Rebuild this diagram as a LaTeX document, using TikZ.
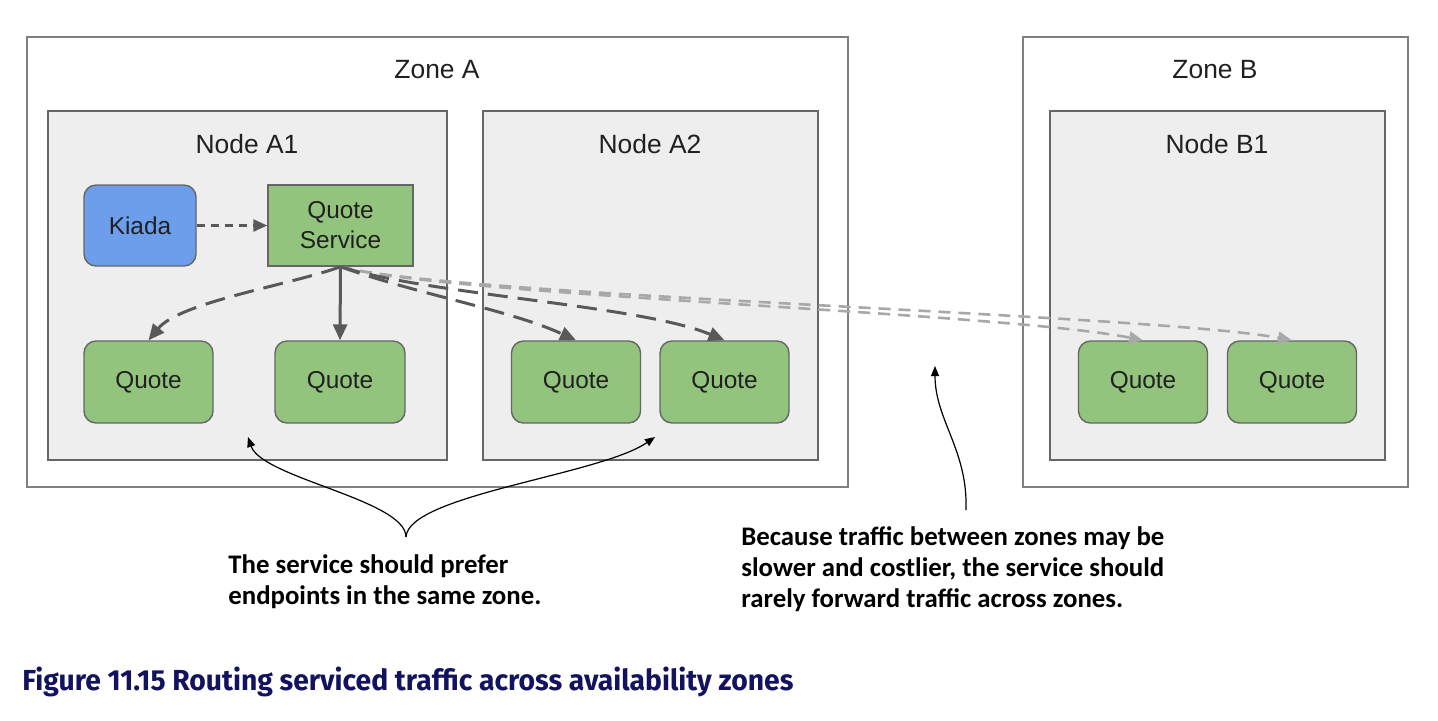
\documentclass[tikz,border=0pt]{standalone}
\usepackage{fontspec}
\usepackage{graphicx}
\setmainfont{Liberation Sans}
\newfontfamily\notefont{Carlito}
\newfontfamily\capfont{Fira Sans}
\usetikzlibrary{arrows.meta}
\definecolor{podgreen}{HTML}{93C47D}
\definecolor{kblue}{HTML}{6D9EEB}
\definecolor{hostgray}{HTML}{EEEEEE}
\definecolor{edgegray}{HTML}{666666}
\definecolor{zonegray}{HTML}{808080}
\definecolor{darkarrow}{HTML}{595959}
\definecolor{lightarrow}{HTML}{A8A8A8}
\definecolor{capblue}{HTML}{12125E}
\definecolor{labeltext}{HTML}{202020}
\begin{document}
\begin{tikzpicture}[x=0.5pt,y=-0.5pt,
  zonebox/.style={draw=zonegray,fill=white,line width=1pt,inner sep=0pt},
  hostbox/.style={draw=edgegray,fill=hostgray,line width=0.9pt,inner sep=0pt,minimum width=167.5pt,minimum height=174.5pt},
  title/.style={text=labeltext,font=\fontsize{13.2}{15}\selectfont,inner sep=0pt},
  podbox/.style={draw=edgegray,fill=podgreen,line width=0.7pt,rounded corners=6pt,minimum width=64.5pt,minimum height=41pt,inner sep=0pt,text=labeltext,font=\fontsize{12.2}{15}\selectfont},
  svcbox/.style={draw=edgegray,fill=podgreen,line width=0.7pt,minimum width=72.5pt,minimum height=40.5pt,inner sep=0pt,text=labeltext,align=center,font=\fontsize{12.2}{15}\selectfont},
  appbox/.style={draw=edgegray,fill=kblue,line width=0.7pt,rounded corners=6pt,minimum width=56pt,minimum height=40.5pt,inner sep=0pt,text=labeltext,font=\fontsize{12.2}{15}\selectfont},
  darkflow/.style={draw=darkarrow,line width=1.5pt,dash pattern=on 10pt off 5pt,-{Triangle[length=8pt,width=7pt]}},
  darksolid/.style={draw=darkarrow,line width=1.5pt,-{Triangle[length=8pt,width=7pt]}},
  kflow/.style={draw=darkarrow,line width=1.3pt,dash pattern=on 4pt off 3pt,-{Triangle[length=7pt,width=6pt]}},
  lightflow/.style={draw=lightarrow,line width=1.3pt,dash pattern=on 6pt off 4pt,-{Triangle[length=7pt,width=6pt]}},
  note/.style={font=\notefont\bfseries\fontsize{13.4}{15.6}\selectfont,align=left,inner sep=0pt,text=black},
  notearrow/.style={draw=black,line width=0.6pt,-{Triangle[length=5pt,width=4pt]}}
]
\useasboundingbox (0,0) rectangle (1438,720);

% zones
\node[zonebox,minimum width=410.5pt,minimum height=225pt] (zoneA) at (437.5,262) {};
\node[zonebox,minimum width=192.5pt,minimum height=225pt] (zoneB) at (1215.5,262) {};
\node[title] (zoneAlbl) at (437,70) {Zone A};
\node[title] (zoneBlbl) at (1215,70) {Zone B};

% hosts
\node[hostbox,minimum width=199.5pt] (hostA1) at (247.5,285.5) {};
\node[hostbox] (hostA2) at (650.5,285.5) {};
\node[hostbox] (hostB1) at (1217.5,285.5) {};
\node[title] (hostA1lbl) at (247,144) {Node A1};
\node[title] (hostA2lbl) at (650,144) {Node A2};
\node[title] (hostB1lbl) at (1217,144) {Node B1};

% pods
\node[appbox] (kiada) at (140,225.5) {Kiada};
\node[svcbox] (qs) at (340.5,225.5) {Quote\\Service};
\node[podbox] (q1) at (148.5,382) {Quote};
\node[podbox,minimum width=65pt] (q2) at (340,382) {Quote};
\node[podbox] (q3) at (576,382) {Quote};
\node[podbox] (q4) at (724.5,382) {Quote};
\node[podbox] (q5) at (1143,382) {Quote};
\node[podbox] (q6) at (1292,382) {Quote};

% connectors
\draw[kflow] (kiada.east) -- (qs.west);
\draw[lightflow] (qs.south) .. controls (450,296) and (1000,312) .. (q5.north);
\draw[lightflow] (qs.south) .. controls (450,296) and (1150,314) .. (q6.north);
\draw[darkflow] (qs.south) .. controls (290,285) and (180,302) .. (q1.north);
\draw[darksolid] (qs.south) -- (q2.north);
\draw[darkflow] (qs.south) .. controls (420,295) and (510,310) .. (q3.north);
\draw[darkflow] (qs.south) .. controls (430,295) and (640,305) .. (q4.north);

% annotations
\coordinate (tip) at (406,537);
\coordinate (leftend) at (248,437);
\coordinate (rightend) at (655,437);
\draw[notearrow] (tip) .. controls (406,500) and (262,478) .. (leftend);
\draw[notearrow] (tip) .. controls (408,495) and (600,475) .. (rightend);
\node[note,anchor=north west] (note1) at (228,554) {The service should prefer\\endpoints in the same zone.};

\coordinate (foot) at (966,510);
\coordinate (head) at (935,366);
\draw[notearrow] (foot) .. controls (968,450) and (935,420) .. (head);
\node[note,anchor=north west] (note2) at (741,526) {Because traffic between zones may be\\slower and costlier, the service should\\rarely forward traffic across zones.};

% caption
\node[anchor=base west,inner sep=0pt,text=capblue] (caption) at (22,690) {\resizebox{385.5pt}{\height}{\capfont\bfseries\fontsize{14.5}{17}\selectfont Figure 11.15 Routing serviced traffic across availability zones}};
\end{tikzpicture}
\end{document}
